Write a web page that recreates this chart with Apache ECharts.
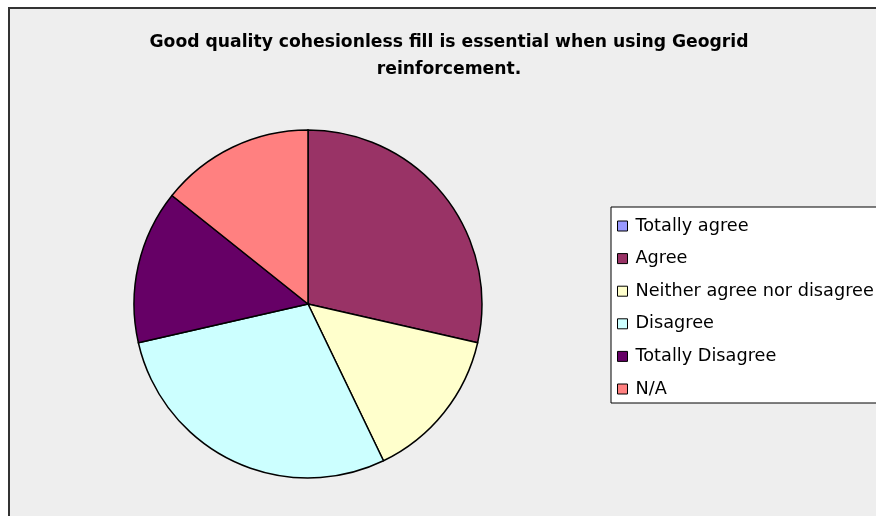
<!DOCTYPE html>
<html>
<head>
<meta charset="utf-8">
<script src="https://cdn.jsdelivr.net/npm/echarts@6/dist/echarts.min.js"></script>
<style>html,body{margin:0;padding:0;background:#fff;}#c{width:876px;height:516px;}</style>
</head>
<body>
<div id="c"></div>
<script>
const titleText = 'Good quality cohesionless fill is essential when using Geogrid\nreinforcement.';
const categories = ['Totally agree', 'Agree', 'Neither agree nor disagree', 'Disagree', 'Totally Disagree', 'N/A'];
const values = [0, 2, 1, 2, 1, 1];
const colors = ['#9999ff', '#993366', '#ffffcc', '#ccffff', '#660066', '#ff8080'];

const chart = echarts.init(document.getElementById('c'), null, {renderer: 'canvas'});
chart.setOption({
  backgroundColor: '#ffffff',
  animation: false,
  graphic: [{
    type: 'rect', z: -10,
    shape: {x: 9, y: 8, width: 900, height: 600},
    style: {fill: '#eeeeee', stroke: '#333333', lineWidth: 2}
  }],
  title: {
    text: titleText,
    left: 444, top: 24, textAlign: 'center',
    textStyle: {fontFamily: 'DejaVu Sans', fontWeight: 'bold', fontSize: 17.2, lineHeight: 27, color: '#000'}
  },
  legend: {
    orient: 'vertical',
    left: 611, top: 207,
    padding: [9, 30, 4, 6],
    backgroundColor: '#ffffff',
    borderColor: '#000000', borderWidth: 1, borderRadius: 0,
    itemWidth: 10, itemHeight: 10, itemGap: 12.6,
    icon: 'rect',
    itemStyle: {borderColor: '#000', borderWidth: 1},
    textStyle: {fontFamily: 'DejaVu Sans', fontSize: 17.7, lineHeight: 20, color: '#000', padding: [0, 0, 0, 3]},
    data: categories
  },
  series: [{
    type: 'pie',
    center: [308, 304],
    radius: 174,
    startAngle: 90,
    clockwise: true,
    label: {show: false},
    labelLine: {show: false},
    emphasis: {disabled: true},
    itemStyle: {borderColor: '#000', borderWidth: 1.5},
    data: categories.map((n, i) => ({name: n, value: values[i], itemStyle: {color: colors[i]}}))
  }]
});
</script>
</body>
</html>
